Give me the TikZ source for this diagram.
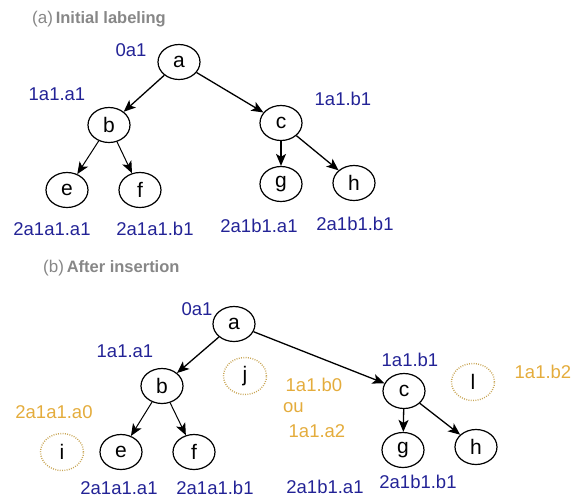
\documentclass[tikz,border=0pt]{standalone}
\usepackage{fontspec}
\setmainfont{Liberation Sans}
\usetikzlibrary{arrows.meta,shapes.geometric}
\definecolor{lblblue}{RGB}{35,35,150}
\definecolor{lblgold}{RGB}{228,172,60}
\definecolor{ringgold}{RGB}{200,165,85}
\definecolor{titlegray}{RGB}{135,135,135}
\begin{document}
\begin{tikzpicture}[x=1pt,y=-1pt,
  tnode/.style={draw=black, line width=1.2pt, ellipse, minimum width=42pt,
    minimum height=35pt, inner sep=0pt, font=\fontsize{21}{21}\selectfont},
  newnode/.style={draw=ringgold, line width=1.4pt, dash pattern=on 0.9pt off 1.4pt,
    ellipse, minimum width=43pt, minimum height=37pt, inner sep=0pt,
    font=\fontsize{21}{21}\selectfont},
  lbl/.style={text=lblblue, font=\fontsize{18.5}{19}\selectfont, inner sep=0pt},
  newlbl/.style={text=lblgold, font=\fontsize{18.5}{19}\selectfont, inner sep=0pt},
  edge/.style={-{Stealth[length=12pt,width=10pt,inset=3pt]}, line width=1.3pt},
  thinedge/.style={-{Stealth[length=12pt,width=10pt,inset=3pt]}, line width=1pt},
  title/.style={text=titlegray, anchor=west, inner sep=0pt}
]
\path[use as bounding box] (0,0) rectangle (579,498);

% ---------- (a) initial labeling ----------
\node[title] (ta) at (32,19) {{\fontsize{17}{17}\selectfont (a)} {\fontsize{16.5}{17}\selectfont\bfseries Initial labeling}};

\node[tnode] (a1) at (179,62) {a};
\node[tnode] (b1) at (109,125) {b};
\node[tnode] (c1) at (281,123) {c};
\node[tnode] (e1) at (67,190) {e};
\node[tnode] (f1) at (140,190) {f};
\node[tnode] (g1) at (281,184) {g};
\node[tnode] (h1) at (354,183) {h};

\draw[edge] (a1) -- (b1);
\draw[edge] (a1) -- (c1);
\draw[thinedge] (b1) -- (e1);
\draw[thinedge] (b1) -- (f1);
\draw[edge] (c1) -- (g1);
\draw[edge] (c1) -- (h1);

\node[lbl] (la1) at (131,50) {0a1};
\node[lbl] (lb1) at (57,94) {1a1.a1};
\node[lbl] (lc1) at (343,99) {1a1.b1};
\node[lbl] (le1) at (52,229) {2a1a1.a1};
\node[lbl] (lf1) at (155,229) {2a1a1.b1};
\node[lbl] (lg1) at (259,226) {2a1b1.a1};
\node[lbl] (lh1) at (355,224) {2a1b1.b1};

% ---------- (b) after insertion ----------
\node[title] (tb) at (43,268) {{\fontsize{17}{17}\selectfont (b)} {\fontsize{16.5}{17}\selectfont\bfseries After insertion}};

\node[tnode] (a2) at (234,324) {a};
\node[tnode] (b2) at (162,386) {b};
\node[tnode] (c2) at (404,391) {c};
\node[tnode] (e2) at (121,452) {e};
\node[tnode] (f2) at (194,452) {f};
\node[tnode] (g2) at (403,450) {g};
\node[tnode] (h2) at (476,447) {h};

\node[newnode] (i2) at (62,452) {i};
\node[newnode] (j2) at (245,376) {j};
\node[newnode] (l2) at (473,382) {l};

\draw[edge] (a2) -- (b2);
\draw[edge] (a2) -- (c2);
\draw[thinedge] (b2) -- (e2);
\draw[thinedge] (b2) -- (f2);
\draw[edge] (c2) -- (g2);
\draw[edge] (c2) -- (h2);

\node[lbl] (la2) at (197,309) {0a1};
\node[lbl] (lb2) at (125,351) {1a1.a1};
\node[lbl] (lc2) at (410,360) {1a1.b1};
\node[lbl] (le2) at (119,488) {2a1a1.a1};
\node[lbl] (lf2) at (215,488) {2a1a1.b1};
\node[lbl] (lg2) at (325,487) {2a1b1.a1};
\node[lbl] (lh2) at (418,482) {2a1b1.b1};

\node[newlbl] (li2) at (54,412) {2a1a1.a0};
\node[newlbl] (lj2) at (314,385) {1a1.b0};
\node[newlbl, anchor=west] (ou) at (283,408) {ou};
\node[newlbl] (lj2b) at (317,431) {1a1.a2};
\node[newlbl] (ll2) at (543,372) {1a1.b2};
\end{tikzpicture}
\end{document}
